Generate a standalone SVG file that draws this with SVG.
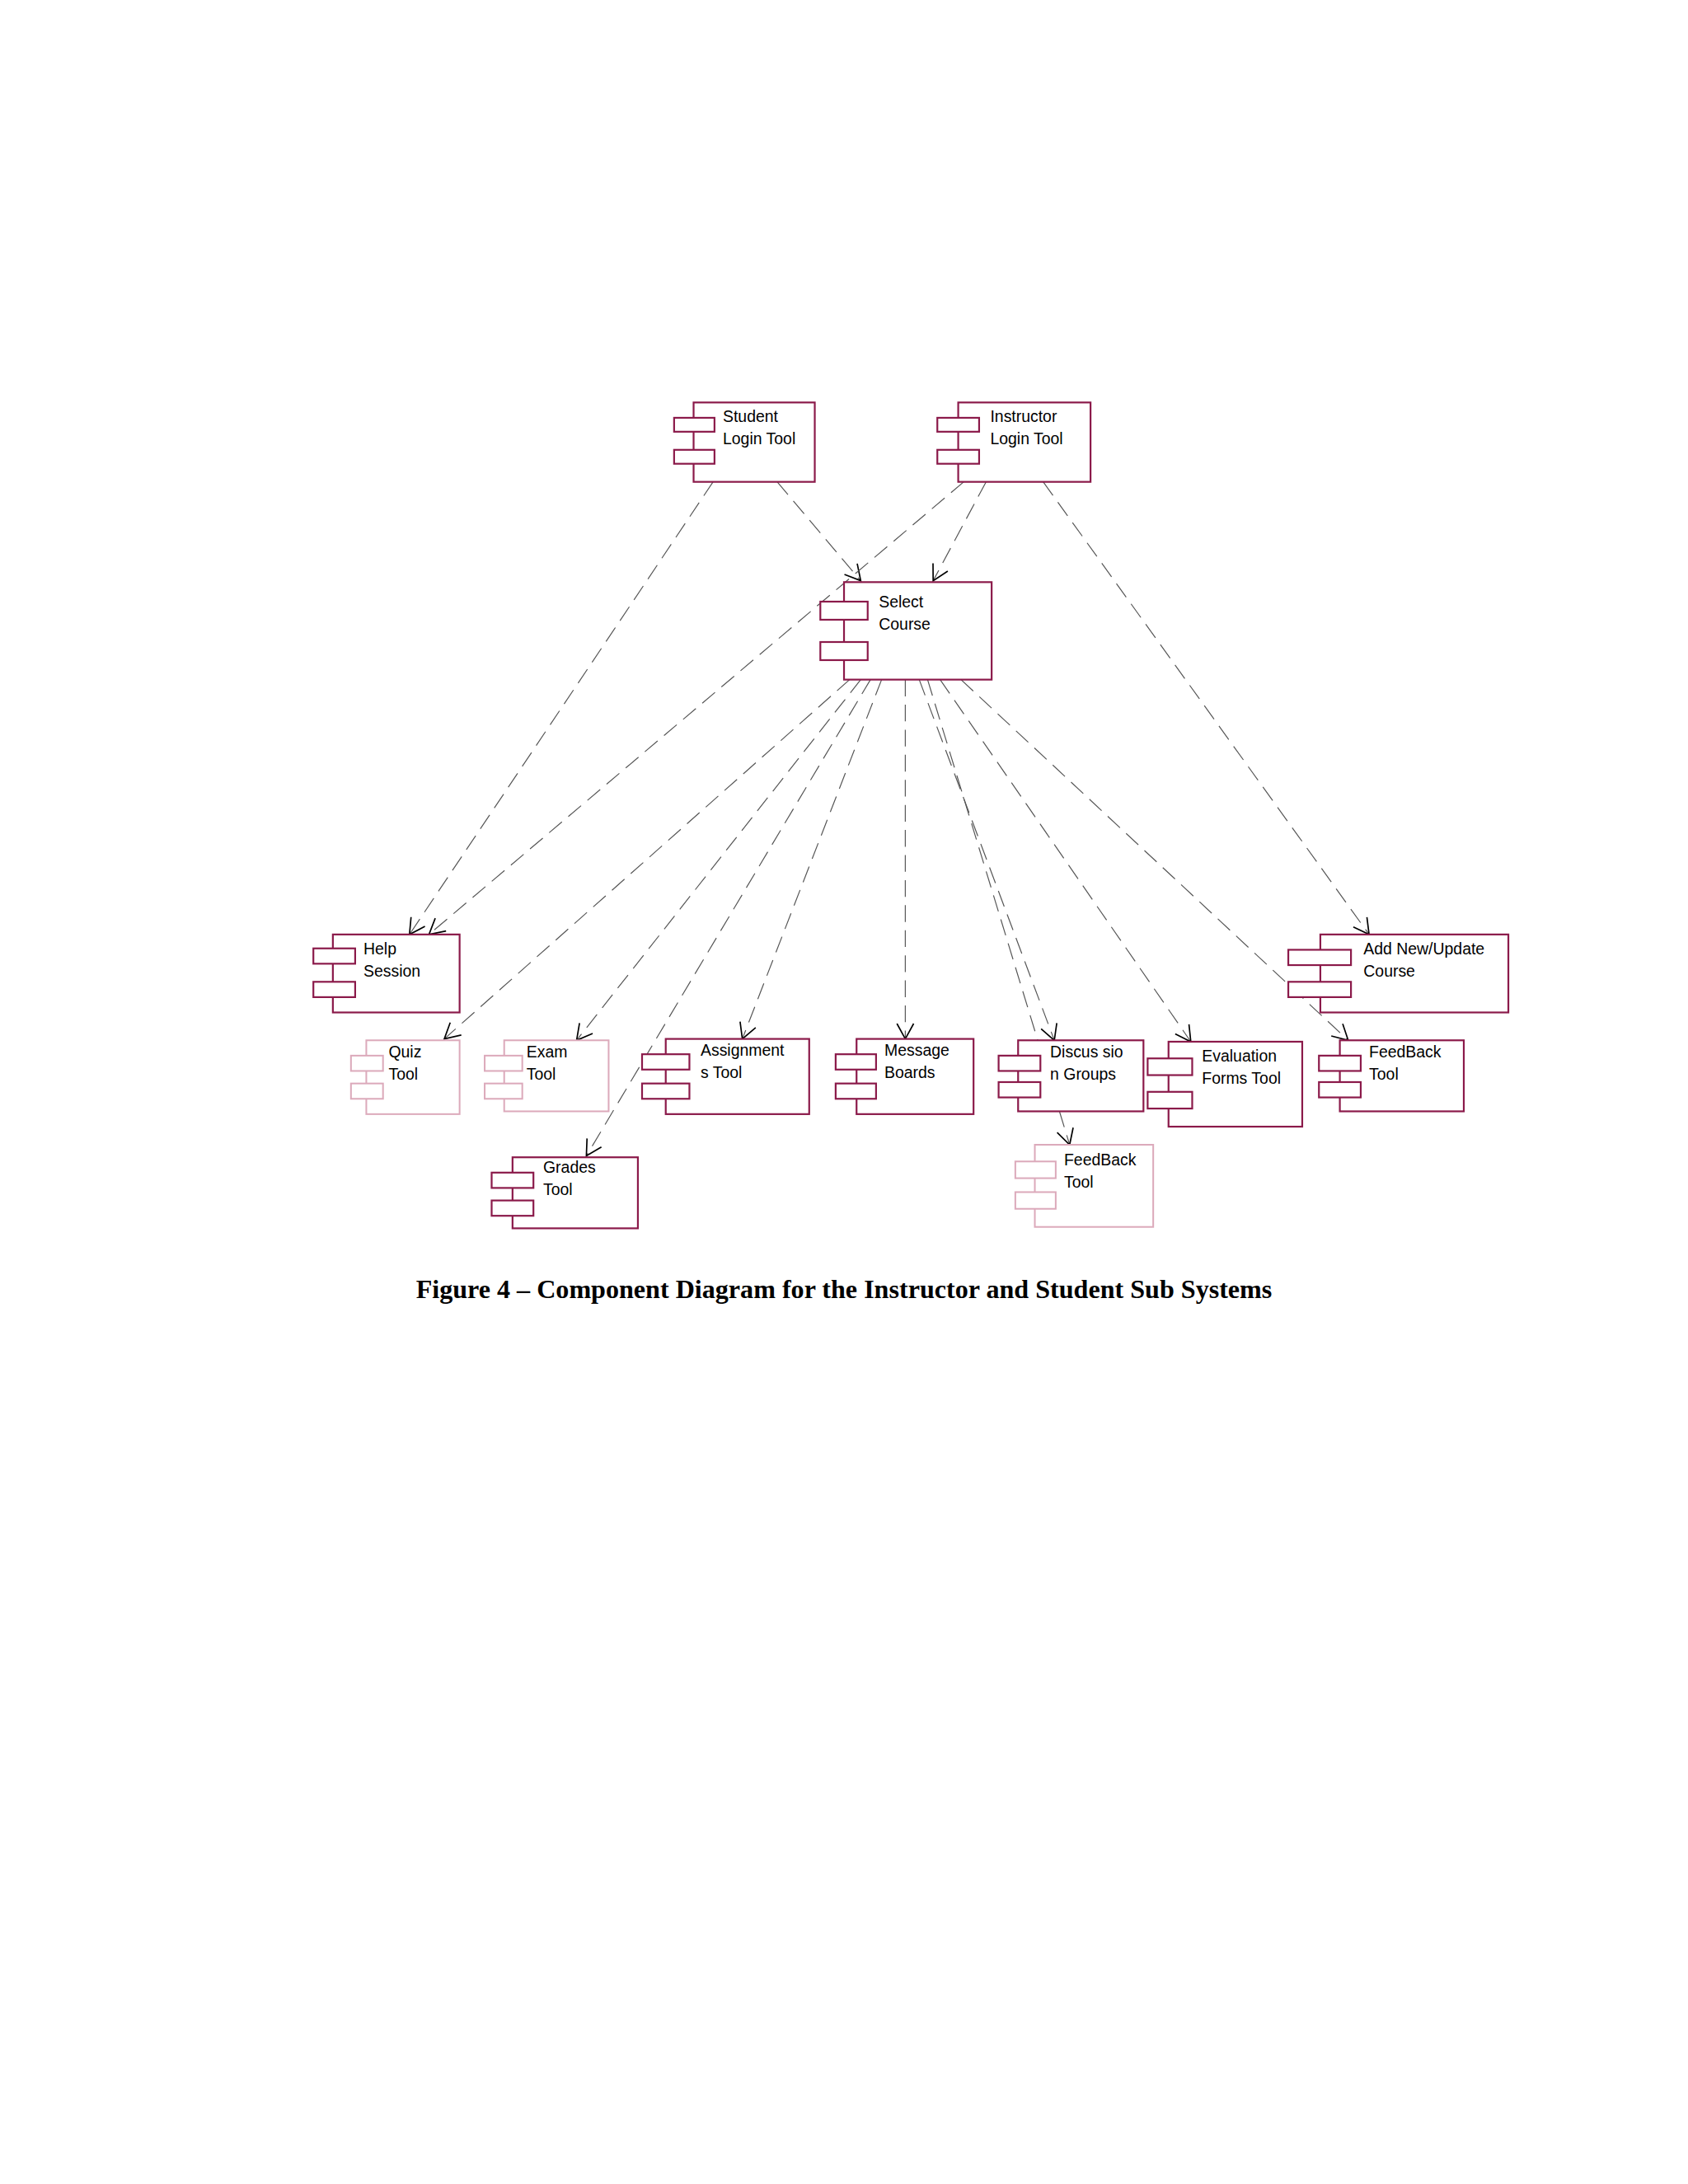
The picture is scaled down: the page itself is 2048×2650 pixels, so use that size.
<svg xmlns="http://www.w3.org/2000/svg" width="2048" height="2650" viewBox="0 0 2048 2650">
<defs>
<marker id="ah" markerWidth="14" markerHeight="14" refX="12" refY="7" orient="auto" markerUnits="userSpaceOnUse"><path d="M1,1 L12,7 L1,13" fill="none" stroke="#000" stroke-width="1"/></marker>
<style>
.b{fill:#fff;stroke:#8b1a4a;stroke-width:1.3}
.p{fill:#fff;stroke:#dcaabb;stroke-width:1.2}
.t{font-family:"Liberation Sans",Arial,sans-serif;font-size:11.5px;fill:#000}
.c{fill:none;stroke:#555;stroke-width:0.7;stroke-dasharray:12 6;marker-end:url(#ah)}
.cap{font-family:"Liberation Serif","Times New Roman",serif;font-size:19px;font-weight:bold;fill:#000}
</style>
</defs>
<rect width="2048" height="2650" fill="#fff"/>
<g transform="scale(1.6898)">
<g id="connectors">
<line class="c" x1="512" y1="346" x2="294" y2="671"/>
<line class="c" x1="558" y1="346" x2="618" y2="417"/>
<line class="c" x1="708" y1="346" x2="670" y2="417"/>
<line class="c" x1="692" y1="346" x2="308" y2="671"/>
<line class="c" x1="749" y1="346" x2="983" y2="671"/>
<line class="c" x1="610" y1="488" x2="319" y2="746"/>
<line class="c" x1="618" y1="488" x2="414" y2="747"/>
<line class="c" x1="625" y1="488" x2="421" y2="830"/>
<line class="c" x1="633" y1="488" x2="533" y2="746"/>
<line class="c" x1="650" y1="488" x2="650" y2="746"/>
<line class="c" x1="660" y1="488" x2="757" y2="747"/>
<line class="c" x1="666" y1="488" x2="768" y2="822"/>
<line class="c" x1="675" y1="488" x2="855" y2="748"/>
<line class="c" x1="690" y1="488" x2="968" y2="747"/>
</g>
<g id="student"><rect class="b" x="498" y="289" width="87" height="57"/><rect class="b" x="484" y="300" width="29" height="10"/><rect class="b" x="484" y="323" width="29" height="10"/><text class="t" x="519" y="303">Student</text><text class="t" x="519" y="319">Login Tool</text></g>
<g id="instructor"><rect class="b" x="688" y="289" width="95" height="57"/><rect class="b" x="673" y="300" width="30" height="10"/><rect class="b" x="673" y="323" width="30" height="10"/><text class="t" x="711" y="303">Instructor</text><text class="t" x="711" y="319">Login Tool</text></g>
<g id="select"><rect class="b" x="606" y="418" width="106" height="70"/><rect class="b" x="589" y="432" width="34" height="13"/><rect class="b" x="589" y="461" width="34" height="13"/><text class="t" x="631" y="436">Select</text><text class="t" x="631" y="452">Course</text></g>
<g id="help"><rect class="b" x="239" y="671" width="91" height="56"/><rect class="b" x="225" y="681" width="30" height="11"/><rect class="b" x="225" y="705" width="30" height="11"/><text class="t" x="261" y="685">Help</text><text class="t" x="261" y="701">Session</text></g>
<g id="addnew"><rect class="b" x="948" y="671" width="135" height="56"/><rect class="b" x="925" y="682" width="45" height="11"/><rect class="b" x="925" y="705" width="45" height="11"/><text class="t" x="979" y="685">Add New/Update</text><text class="t" x="979" y="701">Course</text></g>
<g id="quiz"><rect class="p" x="263" y="747" width="67" height="53"/><rect class="p" x="252" y="758" width="23" height="11"/><rect class="p" x="252" y="778" width="23" height="11"/><text class="t" x="279" y="759">Quiz</text><text class="t" x="279" y="775">Tool</text></g>
<g id="exam"><rect class="p" x="362" y="747" width="75" height="51"/><rect class="p" x="348" y="758" width="27" height="11"/><rect class="p" x="348" y="778" width="27" height="11"/><text class="t" x="378" y="759">Exam</text><text class="t" x="378" y="775">Tool</text></g>
<g id="assign"><rect class="b" x="478" y="746" width="103" height="54"/><rect class="b" x="461" y="757" width="34" height="11"/><rect class="b" x="461" y="778" width="34" height="11"/><text class="t" x="503" y="758">Assignment</text><text class="t" x="503" y="774">s Tool</text></g>
<g id="message"><rect class="b" x="615" y="746" width="84" height="54"/><rect class="b" x="600" y="757" width="29" height="11"/><rect class="b" x="600" y="778" width="29" height="11"/><text class="t" x="635" y="758">Message</text><text class="t" x="635" y="774">Boards</text></g>
<g id="discussion"><rect class="b" x="731" y="747" width="90" height="51"/><rect class="b" x="717" y="758" width="30" height="11"/><rect class="b" x="717" y="777" width="30" height="11"/><text class="t" x="754" y="759">Discus sio</text><text class="t" x="754" y="775">n Groups</text></g>
<g id="evaluation"><rect class="b" x="839" y="748" width="96" height="61"/><rect class="b" x="824" y="760" width="32" height="12"/><rect class="b" x="824" y="784" width="32" height="12"/><text class="t" x="863" y="762">Evaluation</text><text class="t" x="863" y="778">Forms Tool</text></g>
<g id="feedback1"><rect class="b" x="962" y="747" width="89" height="51"/><rect class="b" x="947" y="758" width="30" height="11"/><rect class="b" x="947" y="777" width="30" height="11"/><text class="t" x="983" y="759">FeedBack</text><text class="t" x="983" y="775">Tool</text></g>
<g id="grades"><rect class="b" x="368" y="831" width="90" height="51"/><rect class="b" x="353" y="842" width="30" height="11"/><rect class="b" x="353" y="862" width="30" height="11"/><text class="t" x="390" y="842">Grades</text><text class="t" x="390" y="858">Tool</text></g>
<g id="feedback2"><rect class="p" x="743" y="822" width="85" height="59"/><rect class="p" x="729" y="834" width="29" height="12"/><rect class="p" x="729" y="856" width="29" height="12"/><text class="t" x="764" y="837">FeedBack</text><text class="t" x="764" y="853">Tool</text></g>
<text class="cap" x="606" y="932" text-anchor="middle">Figure 4 – Component Diagram for the Instructor and Student Sub Systems</text>
</g>
</svg>
